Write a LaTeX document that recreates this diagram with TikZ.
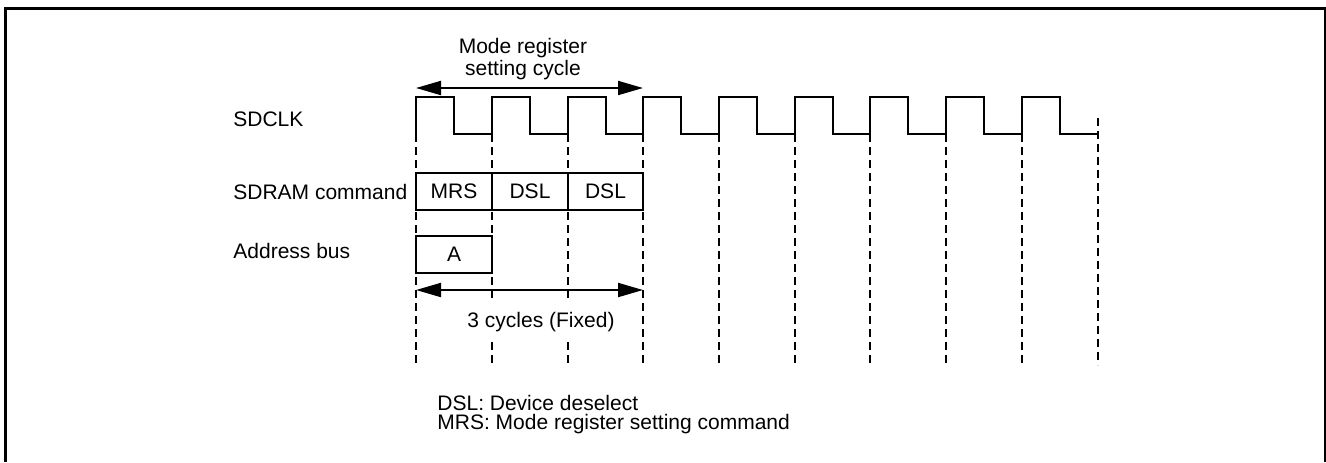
\documentclass[tikz,border=0pt]{standalone}
\usepackage{fontspec}
\setmainfont{Liberation Sans}
\usetikzlibrary{arrows.meta}

\begin{document}
\begin{tikzpicture}[x=0.5pt,y=-0.5pt,
  every node/.style={font=\fontsize{10.5}{9.6}\selectfont},
  sig/.style={line width=1pt},
  tick/.style={line width=0.9pt,dash pattern=on 4pt off 2.5pt},
  cmdbox/.style={draw,line width=1pt,fill=white,minimum width=37.9pt,minimum height=18.5pt,inner sep=0pt},
  dimarrow/.style={line width=1pt,{Triangle[length=12.5pt,width=7pt]}-{Triangle[length=12.5pt,width=7pt]}}]
 \useasboundingbox (0,0) rectangle (1326,462);
 \draw[line width=1.5pt](5,462)--(5,8)--(1325,8)--(1325,462);
 % signal names
 \node[anchor=base west,inner sep=0pt] (clklabel) at (233,126) {SDCLK};
 \node[anchor=base west,inner sep=0pt] (cmdlabel) at (233,199) {SDRAM command};
 \node[anchor=base west,inner sep=0pt] (addrlabel) at (233,258) {Address bus};
 % edge markers
 \draw[tick](416,134)--(416,365);
 \draw[tick](492,134)--(492,365);
 \draw[tick](568,134)--(568,365);
 \draw[tick](643,134)--(643,365);
 \draw[tick](719,134)--(719,365);
 \draw[tick](795,134)--(795,365);
 \draw[tick](870,134)--(870,365);
 \draw[tick](946,134)--(946,365);
 \draw[tick](1022,134)--(1022,365);
 \draw[tick](1098,118)--(1098,365);
 % SDCLK
 \draw[sig](416,134)--(416,97)--(454,97)--(454,134)--(492,134)--(492,97)--(530,97)--(530,134)
   --(568,134)--(568,97)--(606,97)--(606,134)--(643,134)--(643,97)--(681,97)--(681,134)
   --(719,134)--(719,97)--(757,97)--(757,134)--(795,134)--(795,97)--(833,97)--(833,134)
   --(870,134)--(870,97)--(908,97)--(908,134)--(946,134)--(946,97)--(984,97)--(984,134)
   --(1022,134)--(1022,97)--(1060,97)--(1060,134)--(1098,134);
 % commands and address
 \node[cmdbox] (mrs) at (454,191.5) {MRS};
 \node[cmdbox] (dsla) at (530,191.5) {DSL};
 \node[cmdbox] (dslb) at (605.5,191.5) {DSL};
 \node[cmdbox] (addr) at (454,254.5) {A};
 % mode register setting cycle
 \coordinate (cyc0) at (416,88);
 \coordinate (cyc3) at (643,88);
 \draw[dimarrow](cyc0)--(cyc3);
 \node[align=center] (cyclabel) at (523,59) {Mode register\\setting cycle};
 % 3 cycles
 \coordinate (fix0) at (416,290);
 \coordinate (fix3) at (643,290);
 \draw[dimarrow](fix0)--(fix3);
 \node[fill=white,minimum height=19pt,inner xsep=2pt] (fixlabel) at (541,322) {3 cycles (Fixed)};
 % notes
 \node[anchor=base west,inner sep=0pt] (dslnote) at (437,410) {DSL: Device deselect};
 \node[anchor=base west,inner sep=0pt] (mrsnote) at (437,429) {MRS: Mode register setting command};
\end{tikzpicture}
\end{document}
